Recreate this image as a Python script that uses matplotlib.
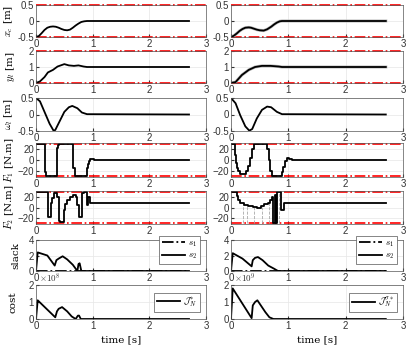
import matplotlib
matplotlib.use("Agg")
from matplotlib import pyplot as plt

# ---- data ----
xc_l_t = [0, 0.05, 0.1, 0.15, 0.2, 0.25, 0.3, 0.35, 0.4, 0.45, 0.5, 0.55, 0.6, 0.65, 0.7, 0.75, 0.8, 0.85, 0.9, 2.7]
xc_l_v = [-0.5, -0.47, -0.38, -0.28, -0.21, -0.18, -0.17, -0.18, -0.21, -0.25, -0.28, -0.29, -0.27, -0.21, -0.14, -0.08, -0.03, -0.01, 0, 0]
xc_r_t = [0, 0.05, 0.1, 0.15, 0.2, 0.25, 0.31, 0.35, 0.4, 0.45, 0.5, 0.57, 0.63, 0.7, 0.75, 0.8, 0.85, 0.89, 2.7]
xc_r_v = [-0.5, -0.46, -0.39, -0.31, -0.25, -0.21, -0.2, -0.21, -0.24, -0.27, -0.29, -0.3, -0.26, -0.18, -0.11, -0.05, -0.01, 0, 0]

yl_l_t = [0, 0.07, 0.15, 0.21, 0.3, 0.38, 0.5, 0.58, 0.67, 0.75, 0.84, 0.9, 2.7]
yl_l_v = [0, 0.1, 0.37, 0.66, 0.82, 1.03, 1.18, 1.1, 1.07, 1.1, 1.03, 1.0, 1.0]
yl_r_t = [0, 0.08, 0.19, 0.31, 0.42, 0.54, 0.69, 0.83, 0.89, 2.7]
yl_r_v = [0, 0.06, 0.5, 0.82, 1.0, 1.07, 1.07, 1.03, 1.0, 1.0]

w_l_t = [0, 0.07, 0.15, 0.24, 0.31, 0.34, 0.41, 0.5, 0.58, 0.64, 0.73, 0.81, 0.9, 2.7]
w_l_v = [0.5, 0.4, 0.08, -0.28, -0.49, -0.47, -0.23, 0.08, 0.22, 0.26, 0.19, 0.06, 0.01, 0]
w_r_t = [0, 0.08, 0.16, 0.25, 0.32, 0.37, 0.45, 0.54, 0.63, 0.7, 0.8, 0.89, 2.7]
w_r_v = [0.5, 0.34, -0.02, -0.36, -0.49, -0.44, -0.12, 0.14, 0.24, 0.22, 0.08, 0.01, 0]

f1_l_t = [0, 0.155, 0.175, 0.37, 0.385, 0.40, 0.655, 0.685, 0.895, 0.915, 0.935, 0.955, 0.975, 1.03, 1.07, 2.7]
f1_l_v = [30, -22, -30, 22, 28, 30, -15, -30, -15, -6, -1, 2, 3, 1, 0, 0]
f1_r_t = [0, 0.07, 0.09, 0.11, 0.13, 0.16, 0.27, 0.30, 0.33, 0.36, 0.40, 0.63, 0.655, 0.68, 0.71, 0.89, 0.91, 0.94, 0.97, 1.02, 1.06, 2.7]
f1_r_v = [30, 10, -5, -15, -20, -25, -20, -10, 5, 20, 30, 20, 0, -20, -30, -22, -12, -2, 5, 2, 0, 0]

f2_l_t = [0, 0.21, 0.27, 0.29, 0.32, 0.37, 0.40, 0.42, 0.50, 0.52, 0.54, 0.60, 0.65, 0.70, 0.73, 0.76, 0.81, 0.85, 0.90, 0.92, 0.96, 2.7]
f2_l_v = [30, -17, 10, 18, 28, 20, -25, -27, -5, 8, 15, 20, 25, 20, 5, -18, 28, 30, 5, 20, 10, 10]
f2_r_t = [0, 0.10, 0.13, 0.16, 0.22, 0.30, 0.38, 0.46, 0.52, 0.58, 0.64, 0.68, 0.72, 0.74, 0.76, 0.78, 0.80, 0.85, 0.88, 0.92, 2.7]
f2_r_v = [30, 22, 14, 9, 6, 3, 1, 0, 3, 7, 10, 15, 20, -30, 25, -30, 30, 30, -5, 10, 10]
f2_r_pred_t = [0.21, 0.28, 0.40, 0.54, 0.66, 0.80, 0.84]
f2_r_pred_v = [7, 4, 1, 2, 12, 30, 30]

s_l_t = [0, 0.03, 0.2, 0.33, 0.36, 0.40, 0.47, 0.55, 0.65, 0.73, 0.75, 0.77, 0.8, 2.7]
s_l_v = [0, 2.4, 2.0, 0.7, 1.4, 1.6, 1.9, 1.5, 0.8, 0, 0.9, 1.0, 0, 0]
s_r_t = [0, 0.03, 0.2, 0.36, 0.38, 0.42, 0.47, 0.55, 0.65, 0.75, 0.82, 2.7]
s_r_v = [0, 2.3, 1.6, 0.6, 1.4, 1.7, 1.8, 1.4, 0.7, 0.3, 0, 0]

c_l_t = [0, 0.03, 0.34, 0.37, 0.40, 0.46, 0.55, 0.63, 0.70, 0.74, 0.76, 0.79, 2.7]
c_l_v = [0, 1.1, 0.1, 0.45, 0.6, 0.7, 0.45, 0.15, 0, 0.2, 0.2, 0, 0]
c_r_t = [0, 0.03, 0.36, 0.38, 0.42, 0.46, 0.52, 0.60, 0.67, 0.74, 2.7]
c_r_v = [0, 1.8, 0.05, 0.8, 1.0, 1.1, 0.8, 0.4, 0.1, 0, 0]

plt.rcParams.update({
    "font.family": "Liberation Sans",
    "font.size": 7,
    "mathtext.fontset": "cm",
    "axes.linewidth": 0.5,
    "axes.edgecolor": "#555555",
    "xtick.color": "#333333",
    "ytick.color": "#333333",
    "xtick.direction": "in",
    "ytick.direction": "in",
    "xtick.major.size": 2,
    "ytick.major.size": 2,
    "xtick.major.pad": 1.5,
    "ytick.major.pad": 1.5,
})

fig = plt.figure(figsize=(4.15, 3.46), dpi=100)

W, H = 415, 346
col_x = [(36, 206), (231, 403)]
row_y = [(5, 37), (51, 83), (98, 131), (143, 177), (191, 224), (240, 271), (285, 319)]

axes = [[None, None] for _ in row_y]
for r, (y0, y1) in enumerate(row_y):
    for c, (x0, x1) in enumerate(col_x):
        ax = fig.add_axes([x0 / W, 1 - y1 / H, (x1 - x0) / W, (y1 - y0) / H])
        ax.set_xlim(0, 3)
        ax.set_xticks([0, 1, 2, 3])
        ax.grid(True, color="#e6e6e6", linewidth=0.5)
        ax.set_axisbelow(True)
        axes[r][c] = ax

lab = dict(family="serif", fontsize=7.5)
lw = 1.3

def limits(ax, lo, hi):
    for v in (lo, hi):
        ax.axhline(v, color="red", linestyle="-.", linewidth=1.2, clip_on=False)

# row 1: x_c
for c, (t, v) in enumerate([(xc_l_t, xc_l_v), (xc_r_t, xc_r_v)]):
    ax = axes[0][c]
    limits(ax, -0.5, 0.5)
    if c == 1:
        ax.plot(t, v, color="#bbbbbb", linewidth=2.2)
    ax.plot(t, v, color="black", linewidth=lw)
    ax.set_ylim(-0.5, 0.5)
    ax.set_yticks([-0.5, 0, 0.5])
    ax.set_yticklabels(["-0.5", "0", "0.5"])
axes[0][0].set_ylabel(r"$x_c$ [m]", labelpad=2, **lab)

# row 2: y_l
for c, (t, v) in enumerate([(yl_l_t, yl_l_v), (yl_r_t, yl_r_v)]):
    ax = axes[1][c]
    limits(ax, 0, 2)
    if c == 1:
        ax.plot(t, v, color="#bbbbbb", linewidth=2.2)
    ax.plot(t, v, color="black", linewidth=lw)
    ax.set_ylim(0, 2)
    ax.set_yticks([0, 1, 2])
axes[1][0].set_ylabel(r"$y_l$ [m]", labelpad=8, **lab)

# row 3: omega
for c, (t, v) in enumerate([(w_l_t, w_l_v), (w_r_t, w_r_v)]):
    ax = axes[2][c]
    ax.plot(t, v, color="black", linewidth=lw)
    ax.set_ylim(-0.5, 0.5)
    ax.set_yticks([-0.5, 0, 0.5])
    ax.set_yticklabels(["-0.5", "0", "0.5"])
axes[2][0].set_ylabel(r"$\omega_l$ [m]", labelpad=2, **lab)

# row 4/5: F1, F2
for r, pairs in [(3, [(f1_l_t, f1_l_v), (f1_r_t, f1_r_v)]),
                 (4, [(f2_l_t, f2_l_v), (f2_r_t, f2_r_v)])]:
    for c, (t, v) in enumerate(pairs):
        ax = axes[r][c]
        limits(ax, -30, 30)
        if r == 4 and c == 1:
            ax.vlines(f2_r_pred_t, -30, f2_r_pred_v, colors="#aaaaaa",
                      linestyles="--", linewidth=0.6)
        ax.step(t, v, where="post", color="black", linewidth=lw)
        ax.set_ylim(-31, 32)
        ax.set_yticks([-20, 0, 20])
axes[3][0].set_ylabel(r"$F_1$ [N.m]", labelpad=1, **lab)
axes[4][0].set_ylabel(r"$F_2$ [N.m]", labelpad=1, **lab)

# row 6: slack
for c, (t, v) in enumerate([(s_l_t, s_l_v), (s_r_t, s_r_v)]):
    ax = axes[5][c]
    ax.plot([0, 2.7], [0, 0], color="black", linestyle="-.", linewidth=lw, label=r"$s_1$")
    ax.plot(t, v, color="black", linewidth=lw, label=r"$s_2$")
    ax.set_ylim(0, 4)
    ax.set_yticks([0, 2, 4])
    leg = ax.legend(loc="lower right", bbox_to_anchor=(0.99, 0.08), fontsize=6.5,
                    handlelength=2.6, handletextpad=0.3, borderpad=0.3,
                    labelspacing=0.2, fancybox=False, framealpha=1)
    leg.get_frame().set_linewidth(0.5)
    leg.get_frame().set_edgecolor("#555555")
axes[5][0].set_ylabel("slack", labelpad=6, **lab)

# row 7: cost
cost_labels = [r"$\mathcal{J}_N^{*}$", r"$\mathcal{J}_N^{\sigma *}$"]
cost_exp = [r"$\times10^{8}$", r"$\times10^{9}$"]
for c, (t, v) in enumerate([(c_l_t, c_l_v), (c_r_t, c_r_v)]):
    ax = axes[6][c]
    ax.plot(t, v, color="black", linewidth=lw, label=cost_labels[c])
    ax.set_ylim(0, 2)
    ax.set_yticks([0, 1, 2])
    leg = ax.legend(loc="upper right", bbox_to_anchor=(0.99, 0.9), fontsize=6.5,
                    handlelength=2.6, handletextpad=0.3, borderpad=0.3,
                    fancybox=False, framealpha=1)
    leg.get_frame().set_linewidth(0.5)
    leg.get_frame().set_edgecolor("#555555")
    ax.text(0.015, 1.0, cost_exp[c], transform=ax.transAxes, fontsize=6.5,
            ha="left", va="bottom", color="#333333")
    ax.set_xlabel("time [s]", labelpad=3, **lab)
axes[6][0].set_ylabel("cost", labelpad=8, **lab)

fig.savefig("out.png", dpi=100)
